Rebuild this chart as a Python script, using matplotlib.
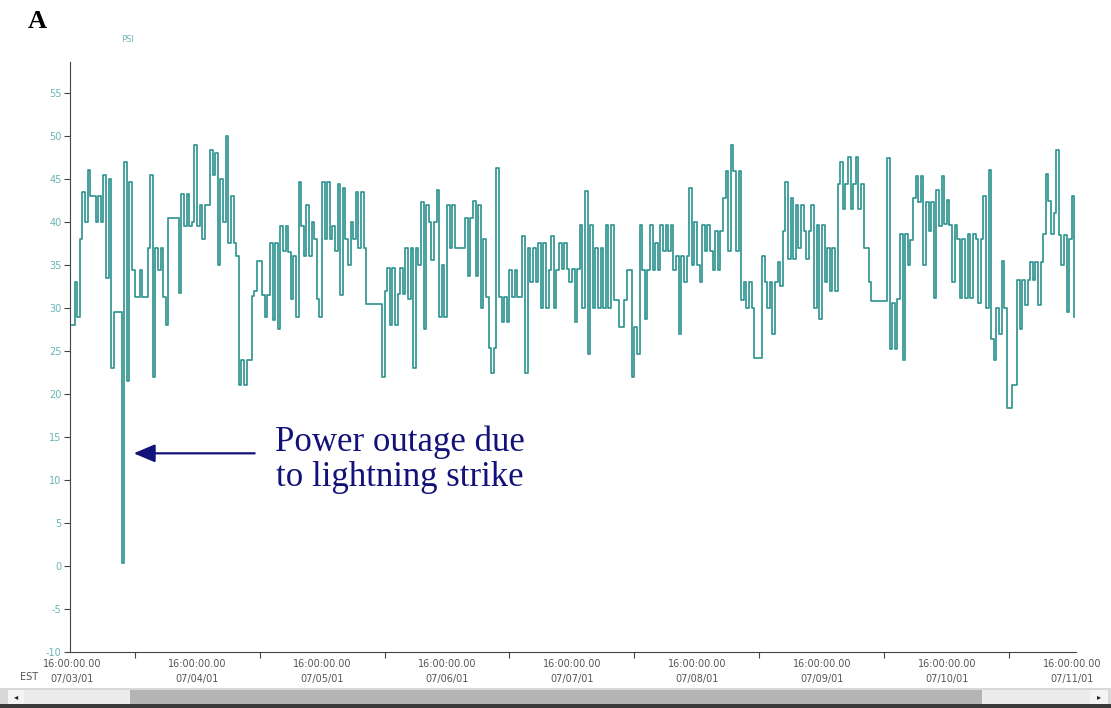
import matplotlib
matplotlib.use('Agg')
import matplotlib.pyplot as plt
from matplotlib.patches import Rectangle
import numpy as np

# PSI readings, one every 30 minutes, starting 07/03/01 16:00 EST
psi = [
    28, 33, 29, 38, 43.5, 40, 46, 43, 43, 40, 43, 40, 45.5, 33.5, 45, 23, 29.5, 29.5, 29.5, 0.3, 47, 21.5, 44.7, 34.4,
    31.3, 31.3, 34.4, 31.3, 31.3, 37, 45.5, 22, 37, 34.4, 37, 31.3, 28, 40.5, 40.5, 40.5, 40.5, 31.7, 43.3, 39.5, 43.3, 39.5, 40, 49,
    39.5, 42, 38, 42, 42, 48.4, 45.5, 48, 35, 45, 40, 50, 37.5, 43, 37.5, 36, 21, 24, 21, 24, 24, 31.4, 32, 35.5,
    35.5, 31.5, 29, 31.5, 37.5, 28.6, 37.5, 27.5, 39.5, 36.6, 39.5, 36.5, 31, 36, 29, 44.6, 39.5, 36, 42, 36, 40, 38, 31, 29,
    44.6, 38, 44.6, 38, 39.5, 36.6, 44.4, 31.5, 44, 38, 35, 40, 38, 43.5, 37, 43.5, 37, 30.5, 30.5, 30.5, 30.5, 30.5, 30.5, 22,
    32, 34.6, 28, 34.6, 28, 31.6, 34.6, 31.6, 37, 31, 37, 23, 37, 35, 42.3, 27.5, 42, 40, 35.6, 40, 43.7, 29, 35, 29,
    42, 37, 42, 37, 37, 37, 37, 40.5, 33.7, 40.5, 42.4, 33.7, 42, 30, 38, 31.3, 25.3, 22.4, 25.3, 46.3, 31.3, 28.4, 31.3, 28.4,
    34.4, 31.3, 34.4, 31.3, 31.3, 38.4, 22.4, 37, 33, 37, 33, 37.5, 30, 37.5, 30, 34.4, 38.4, 30, 34.4, 37.5, 34.5, 37.5, 34.5, 33,
    34.5, 28.4, 34.5, 39.6, 30, 43.6, 24.7, 39.6, 30, 37, 30, 37, 30, 39.6, 30, 39.6, 30.9, 30.9, 27.8, 27.8, 30.9, 34.4, 34.4, 22,
    27.8, 24.7, 39.6, 34.4, 28.7, 34.4, 39.6, 34.4, 37.5, 34.4, 39.6, 36.6, 39.6, 36.6, 39.6, 34.4, 36, 27, 36, 33, 36, 44, 35, 40,
    35, 33, 39.6, 36.6, 39.6, 36.6, 34.4, 39, 34.4, 39, 42.8, 45.9, 36.6, 49, 45.9, 36.6, 45.9, 30.9, 33, 30, 33, 30, 24.2, 24.2,
    24.2, 36, 33, 30, 33, 27, 33, 35.3, 32.5, 39, 44.7, 35.7, 42.8, 35.7, 42, 37, 42, 39, 35.7, 39, 42, 30, 39.6, 28.7,
    39.6, 33, 37, 32, 37, 32, 44.4, 47, 41.5, 44.4, 47.5, 41.5, 44.4, 47.5, 41.5, 44.4, 37, 37, 33, 30.8, 30.8, 30.8, 30.8, 30.8,
    30.8, 47.4, 25.2, 30.6, 25.2, 31, 38.6, 24, 38.6, 35, 37.9, 42.8, 45.4, 42.3, 45.4, 35, 42.3, 39, 42.3, 31.2, 43.7, 39.5, 45.4, 39.8,
    42.6, 39.6, 33, 39.6, 38, 31.2, 38, 31.2, 38.6, 31.2, 38.6, 38, 30.6, 38, 43, 30, 46.1, 26.4, 24, 30, 27, 35.5, 30, 18.4,
    18.4, 21, 21, 33.2, 27.5, 33.2, 30.4, 33.2, 35.3, 33.2, 35.3, 30.4, 35.3, 38.6, 45.6, 42.4, 38.6, 41, 48.4, 38.5, 35, 38.5, 29.5, 38,
    43, 29,
]
hours = np.arange(len(psi)) * 0.5

day_ticks = [0, 24, 48, 72, 96, 120, 144, 168, 192]
day_labels = ['07/03/01', '07/04/01', '07/05/01', '07/06/01', '07/07/01',
              '07/08/01', '07/09/01', '07/10/01', '07/11/01']
psi_ticks = [-10, -5, 0, 5, 10, 15, 20, 25, 30, 35, 40, 45, 50, 55]

W, H = 1111, 708
fig = plt.figure(figsize=(W / 100, H / 100), dpi=100)
ax = fig.add_axes([70 / W, 1 - 652 / H, (1076 - 70) / W, (652 - 62) / H])

ax.step(hours, psi, where='post', color='#329592', lw=1.25)

ax.set_xlim(-0.4, 192.8)
ax.set_ylim(-10, 58.6)

for s in ['top', 'right']:
    ax.spines[s].set_visible(False)
ax.spines['left'].set_color('#444444')
ax.spines['bottom'].set_color('#444444')

ax.set_yticks(psi_ticks)
ax.set_yticklabels([str(v) for v in psi_ticks], fontsize=7, color='#6ab4b4')
ax.tick_params(axis='y', length=4, width=0.8, color='#444444', pad=2)

ax.set_xticks(day_ticks)
ax.set_xticklabels(['16:00:00.00\n' + d for d in day_labels], fontsize=7, color='#555555',
                   linespacing=1.6)
ax.set_xticks([t + 12 for t in day_ticks[:-1]], minor=True)
ax.tick_params(axis='x', which='major', length=0, pad=5)
ax.tick_params(axis='x', which='minor', length=4, width=0.8, color='#444444')

fig.text(20 / W, 1 - 677 / H, 'EST', fontsize=7, color='#555555', ha='left', va='center')
fig.text(128 / W, 1 - 40 / H, 'PSI', fontsize=6, color='#6ab4b4', ha='center', va='center')
fig.text(37 / W, 1 - 22 / H, 'A', fontsize=19, fontweight='bold', family='Liberation Serif',
         ha='center', va='center')

navy = '#12127a'
ax.annotate('', xy=(11.3, 13.1), xytext=(35.6, 13.1),
            arrowprops=dict(arrowstyle='-|>,head_length=1.3,head_width=0.55', color=navy, lw=1.6))
ax.text(63.0, 12.3, 'Power outage due\nto lightning strike', family='Liberation Serif',
        fontsize=25, color=navy, ha='center', va='center', linespacing=1.08)

# scroll bar strip at the bottom
def frect(x0, y0, x1, y1, color):
    fig.patches.append(Rectangle((x0 / W, 1 - y1 / H), (x1 - x0) / W, (y1 - y0) / H,
                                 transform=fig.transFigure, facecolor=color, edgecolor='none'))

frect(0, 688, W, 708, '#d8d8d8')
frect(24, 690, 130, 704, '#ececec')
frect(130, 690, 982, 704, '#b4b4b4')
frect(982, 690, 1090, 704, '#ececec')
frect(8, 690, 24, 704, '#f4f4f4')
frect(1090, 690, 1108, 704, '#f4f4f4')
frect(0, 704, W, 708, '#3a3a3a')
fig.text(16 / W, 1 - 697 / H, '\u25c2', fontsize=6, color='#222222', ha='center', va='center')
fig.text(1099 / W, 1 - 697 / H, '\u25b8', fontsize=6, color='#222222', ha='center', va='center')

fig.savefig('out.png', dpi=100)
